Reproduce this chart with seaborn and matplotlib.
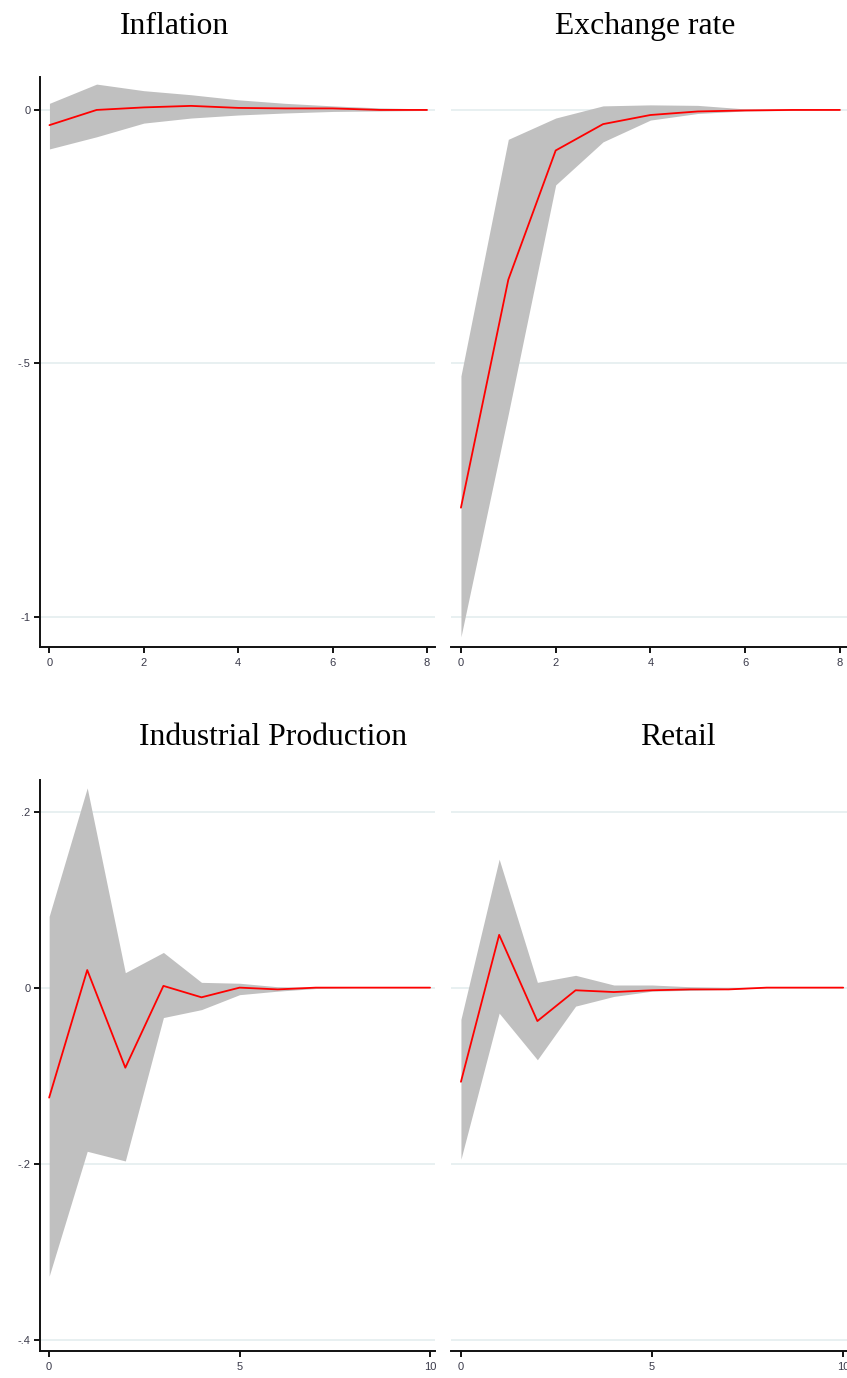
import numpy as np
import pandas as pd
import seaborn as sns
import matplotlib
matplotlib.use('Agg')
import matplotlib.pyplot as plt

# Impulse responses.
steps_short = [0, 1, 2, 3, 4, 5, 6, 7, 8]
steps_long = [0, 1, 2, 3, 4, 5, 6, 7, 8, 9, 10]

inflation_irf = [-0.030, 0.000, 0.005, 0.008, 0.004, 0.003, 0.003, 0.000, 0.000]
inflation_hi = [0.013, 0.051, 0.038, 0.030, 0.020, 0.013, 0.008, 0.004, 0.002]
inflation_lo = [-0.077, -0.053, -0.026, -0.016, -0.010, -0.006, -0.003, -0.002, -0.001]

exchange_irf = [-0.785, -0.335, -0.080, -0.028, -0.010, -0.003, -0.001, 0.000, 0.000]
exchange_hi = [-0.525, -0.058, -0.016, 0.008, 0.010, 0.009, 0.002, 0.001, 0.001]
exchange_lo = [-1.040, -0.600, -0.148, -0.063, -0.020, -0.007, -0.002, -0.001, 0.000]

indprod_irf = [-0.125, 0.020, -0.091, 0.002, -0.011, 0.000, -0.002, 0.000, 0.000, 0.000, 0.000]
indprod_hi = [0.081, 0.227, 0.017, 0.040, 0.006, 0.005, 0.001, 0.000, 0.000, 0.000, 0.000]
indprod_lo = [-0.328, -0.186, -0.197, -0.034, -0.025, -0.008, -0.004, -0.001, 0.000, 0.000, 0.000]

retail_irf = [-0.107, 0.060, -0.038, -0.003, -0.005, -0.003, -0.002, -0.002, 0.000, 0.000, 0.000]
retail_hi = [-0.036, 0.146, 0.006, 0.014, 0.003, 0.003, 0.001, 0.000, 0.000, 0.000, 0.000]
retail_lo = [-0.195, -0.029, -0.082, -0.021, -0.010, -0.004, -0.003, -0.002, 0.000, 0.000, 0.000]

top_yticks = [-1, -0.5, 0]
top_ylabels = ["-1", "-.5", "0"]
bottom_yticks = [-0.4, -0.2, 0, 0.2]
bottom_ylabels = ["-.4", "-.2", "0", ".2"]

sns.set_style("ticks")
plt.rcParams['font.family'] = ['Liberation Sans', 'DejaVu Sans']

W, H = 847, 1378
fig = plt.figure(figsize=(W / 100, H / 100), dpi=100)


def px_axes(left, top, right, bottom):
    return fig.add_axes([left / W, 1 - bottom / H, (right - left) / W, (bottom - top) / H])


panels = [
    # title, title x, title y, axes box, x, irf, hi, lo, xlim, ylim, yticks, ylabels, xticks, show y
    ("Inflation", 174, 34, (40, 77, 435, 647), steps_short, inflation_irf, inflation_hi, inflation_lo,
     (-0.2, 8.17), (-1.06, 0.065), top_yticks, top_ylabels, [0, 2, 4, 6, 8], True),
    ("Exchange rate", 645, 34, (451, 77, 847, 647), steps_short, exchange_irf, exchange_hi, exchange_lo,
     (-0.21, 8.15), (-1.06, 0.065), top_yticks, top_ylabels, [0, 2, 4, 6, 8], False),
    ("Industrial Production", 273, 745, (40, 780, 435, 1351), steps_long, indprod_irf, indprod_hi, indprod_lo,
     (-0.24, 10.13), (-0.413, 0.236), bottom_yticks, bottom_ylabels, [0, 5, 10], True),
    ("Retail", 678, 745, (451, 780, 847, 1351), steps_long, retail_irf, retail_hi, retail_lo,
     (-0.26, 10.1), (-0.413, 0.236), bottom_yticks, bottom_ylabels, [0, 5, 10], False),
]

for (title, tx, ty, box, x, irf, hi, lo, xlim, ylim, yticks, ylabels, xticks, show_y) in panels:
    ax = px_axes(*box)
    df = pd.DataFrame({"step": x, "irf": irf, "hi": hi, "lo": lo})

    for yt in yticks:
        ax.axhline(yt, color='#e4eeef', lw=1.2, zorder=0)

    ax.fill_between(df["step"], df["lo"], df["hi"], color='#c0c0c0', lw=0, zorder=1)
    sns.lineplot(x="step", y="irf", data=df, color='#ff0000', lw=1.3, ax=ax, zorder=2)

    ax.set_xlim(*xlim)
    ax.set_ylim(*ylim)
    ax.set_xticks(xticks)
    ax.set_xticklabels([str(v) for v in xticks])
    ax.set_xlabel('')
    ax.set_ylabel('')
    ax.tick_params(axis='x', labelsize=8, labelcolor='#3a3a4a', color='black',
                   length=4, width=1.3, pad=4)

    ax.spines['top'].set_visible(False)
    ax.spines['right'].set_visible(False)
    ax.spines['bottom'].set_linewidth(1.4)
    ax.spines['bottom'].set_color('#111111')
    if show_y:
        ax.set_yticks(yticks)
        ax.set_yticklabels(ylabels)
        ax.tick_params(axis='y', labelsize=8, labelcolor='#3a3a4a', color='black',
                       length=4, width=1.3, pad=3)
        ax.spines['left'].set_linewidth(1.4)
        ax.spines['left'].set_color('#111111')
    else:
        ax.set_yticks([])
        ax.spines['left'].set_visible(False)

    fig.text(tx / W, 1 - ty / H, title, ha='center', va='baseline', color='black',
             fontsize=22.8, family=['Liberation Serif', 'DejaVu Serif'])

fig.savefig("out.png", dpi=100)
plt.close()
